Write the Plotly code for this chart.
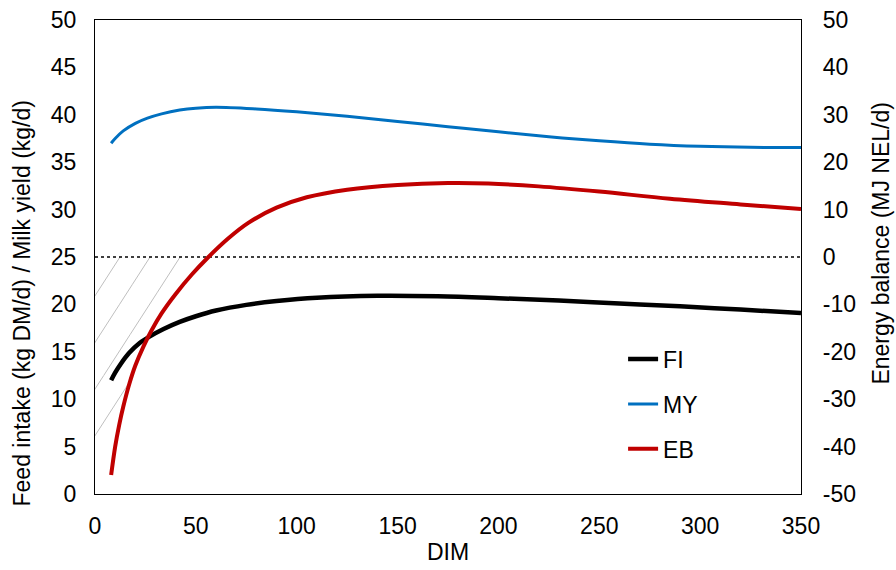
import numpy as np
import plotly.graph_objects as go

# ---- data ----
fi_days = [8, 10, 13, 17, 22, 27, 34, 42, 50, 60, 75, 90, 110, 140, 170, 200, 230, 260, 290, 320, 350]
fi_vals = [12.0, 12.8, 13.8, 14.9, 15.9, 16.6, 17.4, 18.15, 18.75, 19.35, 19.95, 20.35, 20.7, 20.9, 20.85, 20.65, 20.4, 20.1, 19.8, 19.45, 19.1]

my_days = [8, 10, 14, 20, 26, 33, 42, 50, 60, 80, 100, 125, 150, 175, 200, 225, 250, 275, 300, 325, 350]
my_vals = [37.0, 37.5, 38.3, 39.1, 39.65, 40.1, 40.5, 40.7, 40.8, 40.62, 40.32, 39.85, 39.3, 38.75, 38.2, 37.68, 37.25, 36.9, 36.68, 36.57, 36.55]

eb_days = [8, 10, 12, 14, 17, 20, 24, 28, 33, 40, 48, 56, 66, 76, 90, 105, 125, 150, 175, 195, 220, 250, 285, 320, 350]
eb_vals = [-46, -40.0, -35.4, -31.6, -26.8, -22.9, -18.9, -15.5, -11.9, -7.8, -3.7, -0.1, 3.9, 7.2, 10.4, 12.6, 14.2, 15.2, 15.6, 15.5, 14.9, 13.8, 12.3, 11.1, 10.1]

x_ticks = [0, 50, 100, 150, 200, 250, 300, 350]
y_ticks = [0, 5, 10, 15, 20, 25, 30, 35, 40, 45, 50]
y2_ticks = [-50, -40, -30, -20, -10, 0, 10, 20, 30, 40, 50]
series_names = ["FI", "MY", "EB"]

# ---- styles ----
FONT = "Liberation Sans, Arial, sans-serif"
FS = 23
C_FI, C_MY, C_EB = "#000000", "#0070C0", "#C00000"

fig = go.Figure()

# hatch lines in the negative-energy-balance region (left of EB curve, below 0 line)
hatch_starts = [12.4, 27.3, 42.2, 57.1]   # x where hatch meets the 0-line
hatch_slope = 0.33                        # left-axis units per day
xx = np.linspace(-2, 60, 800)
eb_left = (np.interp(xx, eb_days, eb_vals) + 50) / 2.0
for x0 in hatch_starts:
    yy = 25 - hatch_slope * (x0 - xx)
    ok = (xx <= x0) & ((xx < eb_days[0]) | (yy >= eb_left))
    idx = np.where(ok)[0]
    run = [idx[0]]
    for i in idx[1:]:
        if i == run[-1] + 1:
            run.append(i)
        else:
            break
    fig.add_trace(go.Scatter(x=xx[run], y=yy[run], mode="lines",
                             line=dict(color="#BFBFBF", width=1),
                             showlegend=False, hoverinfo="skip"))

# zero line of energy balance (dotted)
fig.add_trace(go.Scatter(x=[0, 350], y=[0, 0], yaxis="y2", mode="lines",
                         line=dict(color="#000000", width=1.3, dash="dot"),
                         showlegend=False, hoverinfo="skip"))

fig.add_trace(go.Scatter(x=fi_days, y=fi_vals, name=series_names[0], mode="lines",
                         line=dict(color=C_FI, width=4.5, shape="spline", smoothing=1.0),
                         legendgroup="a"))
fig.add_trace(go.Scatter(x=my_days, y=my_vals, name=series_names[1], mode="lines",
                         line=dict(color=C_MY, width=3, shape="spline", smoothing=1.0),
                         legendgroup="b"))
fig.add_trace(go.Scatter(x=eb_days, y=eb_vals, name=series_names[2], mode="lines", yaxis="y2",
                         line=dict(color=C_EB, width=4, shape="spline", smoothing=1.0),
                         legendgroup="c"))

axis_font = dict(family=FONT, size=FS, color="#000000")
fig.update_layout(
    width=896, height=570,
    margin=dict(l=95, r=95, t=20, b=76),
    paper_bgcolor="white", plot_bgcolor="white",
    font=axis_font,
    xaxis=dict(range=[0, 350], tickvals=x_ticks, showgrid=False, zeroline=False,
               showline=True, linecolor="#000000", linewidth=1.3, mirror=True,
               ticks="outside", ticklen=11, tickcolor="rgba(0,0,0,0)",
               tickfont=axis_font, automargin=False),
    yaxis=dict(range=[0, 50], tickvals=y_ticks, ticktext=[str(v) for v in y_ticks],
               showgrid=False, zeroline=False,
               showline=True, linecolor="#000000", linewidth=1.3,
               ticks="outside", ticklen=13, tickcolor="rgba(0,0,0,0)",
               tickfont=axis_font, automargin=False),
    yaxis2=dict(range=[-50, 50], tickvals=y2_ticks, ticktext=[str(v) for v in y2_ticks],
                overlaying="y", side="right", showgrid=False,
                zeroline=False, showline=True, linecolor="#000000", linewidth=1.3,
                ticks="outside", ticklen=16, tickcolor="rgba(0,0,0,0)",
                tickfont=axis_font, automargin=False),
    legend=dict(x=0.748, y=0.33, xanchor="left", yanchor="top", bgcolor="rgba(0,0,0,0)",
                font=dict(family=FONT, size=FS, color="#000000"), tracegroupgap=12),
    showlegend=True,
    annotations=[
        dict(text="Feed intake (kg DM/d) / Milk yield (kg/d)", xref="paper", yref="paper",
             x=-0.104, y=0.401, xanchor="center", yanchor="middle", textangle=-90,
             showarrow=False, font=axis_font),
        dict(text="Energy balance (MJ NEL/d)", xref="paper", yref="paper",
             x=1.113, y=0.530, xanchor="center", yanchor="middle", textangle=-90,
             showarrow=False, font=axis_font),
        dict(text="DIM", xref="paper", yref="paper",
             x=0.5, y=-0.122, xanchor="center", yanchor="middle",
             showarrow=False, font=axis_font),
    ],
)

fig.write_html("out.html")
